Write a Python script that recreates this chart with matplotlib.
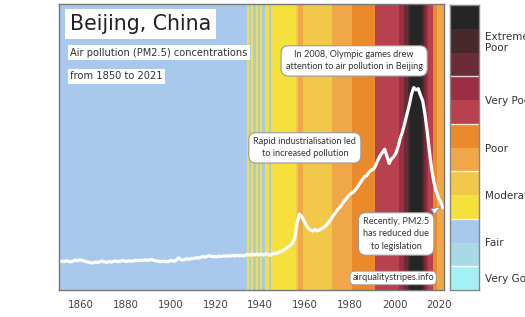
import matplotlib.pyplot as plt
import numpy as np

# PM2.5 (annual, ug/m3) Beijing 1850-2021
years = np.arange(1850, 2022)
pm25 = [
    12.8, 13.1, 12.9, 13.3, 13.0, 12.7, 13.2, 13.6, 13.4, 13.7,
    13.5, 13.2, 12.9, 12.6, 12.4, 12.3, 12.7, 12.5, 12.9, 13.1,
    12.8, 12.6, 12.9, 12.7, 13.0, 13.2, 12.9, 13.1, 13.4, 13.2,
    13.0, 13.3, 13.1, 13.2, 13.5, 13.3, 13.6, 13.4, 13.7, 13.5,
    13.6, 13.9, 13.5, 13.3, 13.1, 12.9, 13.2, 13.0, 12.8, 13.2,
    13.4, 13.1, 13.5, 14.6, 13.8, 13.6, 13.9, 14.2, 14.0, 14.4,
    14.3, 14.7, 14.5, 14.9, 15.2, 15.0, 15.4, 15.6, 15.1, 15.3,
    15.0, 15.4, 15.2, 15.5, 15.3, 15.6, 15.4, 15.7, 15.5, 15.8,
    15.6, 15.7, 15.5, 15.8, 16.2, 15.8, 16.3, 15.9, 16.4, 15.9,
    16.3, 15.9, 16.4, 16.2, 15.8, 16.5, 16.6, 16.8, 17.2, 17.6,
    18.2, 18.9, 19.6, 20.3, 21.5, 24.0, 30.5, 34.5, 33.5, 31.5,
    29.5, 28.0, 27.2, 26.8, 27.5, 26.9, 27.3, 28.0, 28.6, 29.5,
    30.8, 32.0, 33.8, 35.0, 36.5, 37.5, 39.0, 40.5, 41.5, 43.0,
    43.8, 44.5, 45.5, 47.0, 48.5, 50.0, 51.5, 52.0, 53.5, 54.5,
    54.8, 56.5, 59.0, 61.0, 62.5, 64.0, 61.0, 57.5, 59.5, 60.5,
    62.0, 65.0, 69.0, 72.0, 76.0, 80.0, 84.0, 89.0, 92.0, 91.0,
    91.5, 88.5, 86.0, 80.0, 72.0, 63.0, 55.0, 49.0, 45.0, 42.0,
    40.0, 37.5,
]

# level boundaries and colours (bottom -> top)
level_edges = [8, 12, 16, 25, 33, 44, 55, 68, 75, 82, 88]
level_colors = ['#a3f1f7', '#a9d9e6', '#a9c9ec', '#f6e03b', '#f2c84b', '#f0a747',
                '#eb8a2b', '#b8414f', '#9a2e45', '#6b2c37', '#47282c', '#262526']
cat_names = ['Very Good', 'Fair', 'Moderate', 'Poor', 'Very Poor', 'Extremely\nPoor']
cat_pos = [0.5, 2, 4, 6, 8, 10.5]
cat_breaks = [1, 3, 5, 7, 9]

fig = plt.figure(figsize=(5.25, 3.17), dpi=100)
ax = fig.add_axes([58.5 / 525, 27 / 317, 385.5 / 525, 286 / 317])
cb = fig.add_axes([450 / 525, 27 / 317, 29 / 525, 285 / 317])

# stripes
levels = np.digitize(pm25, level_edges)
ax.bar(years, 130, width=1, align='edge', bottom=0,
       color=[level_colors[i] for i in levels], linewidth=0)

# line
ax.plot(years + 0.5, pm25, color='white', lw=2.3, solid_joinstyle='round')

ax.set_xlim(1850, 2022)
ax.set_ylim(0, 130)
ax.set_yticks([])
ax.set_xticks(np.arange(1860, 2021, 20))
ax.tick_params(axis='x', length=0, pad=7, labelsize=7.4, labelcolor='#444444')
for s in ax.spines.values():
    s.set_color('#777777')
    s.set_linewidth(1)

# titles
box = dict(boxstyle='square,pad=0.25', fc='white', ec='none')
ax.text(0.03, 0.93, 'Beijing, China', transform=ax.transAxes, fontsize=14.8,
        color='#222222', ha='left', va='center', bbox=box)
ax.text(0.03, 0.829, 'Air pollution (PM2.5) concentrations', transform=ax.transAxes,
        fontsize=7.1, color='#333333', ha='left', va='center', bbox=box)
ax.text(0.03, 0.748, 'from 1850 to 2021', transform=ax.transAxes,
        fontsize=7.1, color='#333333', ha='left', va='center', bbox=box)

# annotations
note = dict(boxstyle='round,pad=0.5,rounding_size=0.8', fc='white', ec='#9a9a9a', lw=0.8)
ax.text(0.767, 0.801, 'In 2008, Olympic games drew\nattention to air pollution in Beijing',
        transform=ax.transAxes, fontsize=6.6, family='Lato', color='#333333',
        ha='center', va='center', linespacing=1.45, bbox=note)
ax.text(0.639, 0.497, 'Rapid industrialisation led\nto increased pollution',
        transform=ax.transAxes, fontsize=6.6, family='Lato', color='#333333',
        ha='center', va='center', linespacing=1.45, bbox=note)
ax.annotate('Recently, PM2.5\nhas reduced due\nto legislation',
            xy=(years[-1] + 0.6, pm25[-1] + 1), xycoords='data',
            xytext=(0.876, 0.196), textcoords='axes fraction',
            fontsize=6.6, family='Lato', color='#333333', ha='center', va='center',
            linespacing=1.45, bbox=note,
            arrowprops=dict(arrowstyle='wedge,tail_width=0.7,shrink_factor=0.5',
                            fc='white', ec='#9a9a9a', lw=0.8))
ax.text(0.868, 0.042, 'airqualitystripes.info', transform=ax.transAxes,
        fontsize=6.6, family='Lato', color='#333333', ha='center', va='center',
        bbox=dict(boxstyle='round,pad=0.25,rounding_size=0.5', fc='white', ec='#9a9a9a', lw=0.6))

# colour scale
cb.bar(0, 1, bottom=np.arange(12), width=1, color=level_colors, linewidth=0)
for b in cat_breaks:
    cb.axhline(b, color='white', lw=1, alpha=0.8)
cb.set_xlim(-0.5, 0.5)
cb.set_ylim(0, 12)
cb.set_xticks([])
cb.yaxis.tick_right()
cb.set_yticks(cat_pos)
cb.set_yticklabels(cat_names)
cb.tick_params(axis='y', length=0, pad=4, labelsize=7.5, labelcolor='#333333')
for s in cb.spines.values():
    s.set_color('#888888')
    s.set_linewidth(1)

fig.savefig('out.png', dpi=100)
